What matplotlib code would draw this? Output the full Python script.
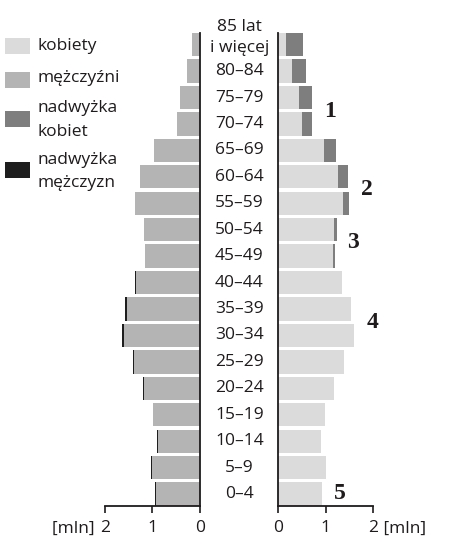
import numpy as np
import matplotlib
matplotlib.use('Agg')
import matplotlib.pyplot as plt
from matplotlib.patches import Rectangle
from matplotlib.transforms import blended_transform_factory

plt.rcParams['font.family'] = ['Open Sans', 'DejaVu Sans']

# age groups from youngest to oldest
ages = ['0–4', '5–9', '10–14', '15–19', '20–24', '25–29', '30–34', '35–39', '40–44',
        '45–49', '50–54', '55–59', '60–64', '65–69', '70–74', '75–79', '80–84',
        '85 lat\ni więcej']
# population in mln
men = np.array([0.95, 1.03, 0.91, 1.00, 1.21, 1.42, 1.64, 1.57, 1.37,
                1.16, 1.18, 1.36, 1.26, 0.96, 0.49, 0.43, 0.28, 0.16])
women = np.array([0.93, 1.01, 0.89, 0.98, 1.18, 1.39, 1.60, 1.54, 1.35,
                  1.20, 1.24, 1.49, 1.47, 1.21, 0.72, 0.72, 0.58, 0.51])

xticks = [0, 1, 2]
marks = ['1', '2', '3', '4', '5']
mark_pos = [(1.09, 14.48), (1.86, 11.53), (1.57, 9.53), (1.98, 6.48), (1.30, 0.03)]

legend_labels = ['kobiety', 'mężczyźni', 'nadwyżka\nkobiet', 'nadwyżka\nmężczyzn']

c_women = '#dbdbdb'
c_men = '#b4b4b4'
c_wsur = '#7e7e7e'
c_msur = '#1e1e1e'
txt = '#1f1b1c'
fs = 12.5

W, H = 460, 556
fig = plt.figure(figsize=(W / 100, H / 100), dpi=100)


def px_box(x0, x1, y_top, y_bot):
    return [x0 / W, 1 - y_bot / H, (x1 - x0) / W, (y_bot - y_top) / H]


ax_l = fig.add_axes(px_box(105, 200, 33, 505.7))
ax_r = fig.add_axes(px_box(278.3, 373.3, 33, 505.7))

y = np.arange(len(ages))
bh = 0.88
common = np.minimum(men, women)
sur_m = np.clip(men - women, 0, None)
sur_w = np.clip(women - men, 0, None)

ax_l.barh(y, common, height=bh, color=c_men, linewidth=0)
ax_l.barh(y, sur_m, left=common, height=bh, color=c_msur, linewidth=0)
ax_r.barh(y, common, height=bh, color=c_women, linewidth=0)
ax_r.barh(y, sur_w, left=common, height=bh, color=c_wsur, linewidth=0)

ax_l.set_xlim(2, 0)
ax_r.set_xlim(0, 2)
for ax, hide in ((ax_l, ['top', 'left']), (ax_r, ['top', 'right'])):
    ax.set_ylim(-0.44, 17.44)
    for s in hide:
        ax.spines[s].set_visible(False)
    for s in ('bottom', 'left', 'right'):
        ax.spines[s].set_linewidth(1.3)
        ax.spines[s].set_color(txt)
    ax.set_yticks([])
    ax.set_xticks(xticks)
    ax.set_xticklabels([str(t) for t in xticks])
    ax.tick_params(axis='x', direction='out', length=5, width=1.2, color=txt,
                   labelsize=fs, labelcolor=txt, pad=5.5)
    ax.set_facecolor('none')

# [mln] unit labels next to the "2" ticks
ax_l.text(2.12, -1.02, '[mln] ', ha='right', va='top', fontsize=fs, color=txt,
          clip_on=False)
ax_r.text(2.12, -1.02, ' [mln]', ha='left', va='top', fontsize=fs, color=txt,
          clip_on=False)

# age labels in the middle
tr = blended_transform_factory(fig.transFigure, ax_l.transData)
xc = 239.3 / W
for i, lab in enumerate(ages):
    lines = lab.split('\n')
    if len(lines) == 1:
        ax_l.text(xc, i, lab, transform=tr, ha='center', va='center',
                  fontsize=fs, color=txt, clip_on=False)
    else:
        ax_l.text(xc, i + 0.68, lines[0], transform=tr, ha='center', va='center',
                  fontsize=fs, color=txt, clip_on=False)
        ax_l.text(xc, i - 0.12, lines[1], transform=tr, ha='center', va='center',
                  fontsize=fs, color=txt, clip_on=False)

# numbered annotations
for m, (mx, my) in zip(marks, mark_pos):
    ax_r.text(mx, my, m, ha='center', va='center', fontsize=17,
              family=['Liberation Serif', 'DejaVu Serif'], fontweight='bold',
              color=txt, clip_on=False)

# legend drawn in pixel coordinates
ov = fig.add_axes([0, 0, 1, 1])
ov.set_xlim(0, W)
ov.set_ylim(H, 0)
ov.axis('off')
leg_colors = [c_women, c_men, c_wsur, c_msur]
patch_cy = [45.5, 79.5, 118.5, 170]
text_base = [[50.5], [82], [112.5, 135.5], [164.5, 187]]
for col, cy, lab, bases in zip(leg_colors, patch_cy, legend_labels, text_base):
    ov.add_patch(Rectangle((5, cy - 8), 25, 16, facecolor=col, edgecolor='none'))
    for line, b in zip(lab.split('\n'), bases):
        ov.text(38, b, line, ha='left', va='baseline', fontsize=fs, color=txt)

fig.savefig('out.png', dpi=100)
